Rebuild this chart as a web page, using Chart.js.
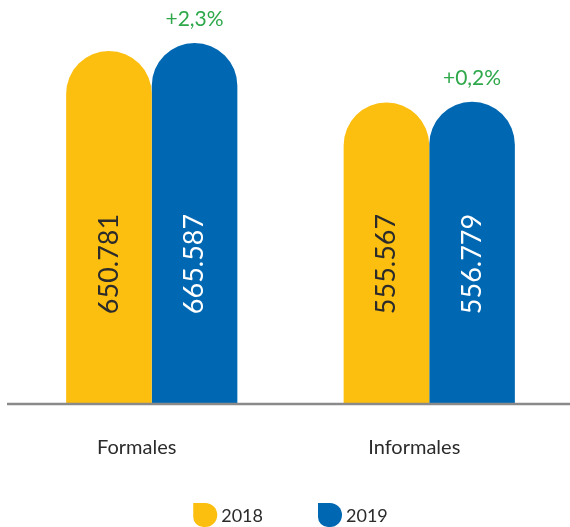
<!DOCTYPE html>
<html>
<head>
<meta charset="utf-8">
<script src="https://cdn.jsdelivr.net/npm/chart.js@4.4.1/dist/chart.umd.min.js"></script>
<style>
  html,body{margin:0;padding:0;background:#fff;}
  #wrap{width:570px;height:527px;position:relative;}
</style>
</head>
<body>
<div id="wrap"><canvas id="c"></canvas></div>
<script>
const categories = ['Formales', 'Informales'];
const seriesLabels = ['2018', '2019'];
const values2018 = [650781, 555567];
const values2019 = [665587, 556779];
const changeLabels = ['+2,3%', '+0,2%'];

const YELLOW = '#FCBE0F';
const BLUE = '#0068B2';
const GREEN = '#2EA84A';
const FONT = 'Lato, "Open Sans", sans-serif';

function fmt(v){ return String(v).replace(/\B(?=(\d{3})+(?!\d))/g, '.'); }

const overlay = {
  id: 'overlay',
  afterDatasetsDraw(chart){
    const ctx = chart.ctx;
    const yScale = chart.scales.y;
    const area = chart.chartArea;
    const base = yScale.getPixelForValue(0);
    ctx.save();
    // axis line
    ctx.strokeStyle = '#8a8a8a';
    ctx.lineWidth = 2.5;
    ctx.beginPath();
    ctx.moveTo(7, base + 1);
    ctx.lineTo(chart.width, base + 1);
    ctx.stroke();
    // values inside bars
    chart.data.datasets.forEach((ds, di) => {
      const meta = chart.getDatasetMeta(di);
      meta.data.forEach((bar, i) => {
        ctx.save();
        ctx.translate(bar.x, base - 139);
        ctx.rotate(-Math.PI / 2);
        ctx.fillStyle = di === 0 ? '#2b2b2b' : '#ffffff';
        ctx.font = '400 27px ' + FONT;
        ctx.textAlign = 'center';
        ctx.textBaseline = 'middle';
        ctx.fillText(fmt(ds.data[i]), 0, 0);
        ctx.restore();
      });
    });
    // change labels above 2019 bars
    const meta19 = chart.getDatasetMeta(1);
    meta19.data.forEach((bar, i) => {
      ctx.fillStyle = GREEN;
      ctx.font = '400 21px ' + FONT;
      ctx.textAlign = 'center';
      ctx.textBaseline = 'middle';
      ctx.fillText(changeLabels[i], bar.x, bar.y - 24);
    });
    // legend
    ctx.font = '400 18px ' + FONT;
    const box = 24, gapText = 4, gapItem = 55;
    const widths = chart.data.datasets.map(ds => box + gapText + ctx.measureText(ds.label).width);
    const total = widths.reduce((a, b) => a + b, 0) + gapItem * (widths.length - 1);
    let x = (area.left + area.right) / 2 - total / 2;
    const yc = chart.height - 12;
    chart.data.datasets.forEach((ds, i) => {
      ctx.fillStyle = ds.backgroundColor;
      ctx.beginPath();
      ctx.roundRect(x, yc - box / 2, box, box, [0, 12, 12, 10]);
      ctx.fill();
      ctx.fillStyle = '#2b2b2b';
      ctx.textAlign = 'left';
      ctx.textBaseline = 'middle';
      ctx.fillText(ds.label, x + box + gapText, yc + 1);
      x += widths[i] + gapItem;
    });
    ctx.restore();
  }
};

new Chart(document.getElementById('c'), {
  type: 'bar',
  data: {
    labels: categories,
    datasets: [
      { label: seriesLabels[0], data: values2018, backgroundColor: YELLOW,
        borderRadius: {topLeft: 200, topRight: 200, bottomLeft: 0, bottomRight: 0}, borderSkipped: 'start' },
      { label: seriesLabels[1], data: values2019, backgroundColor: BLUE,
        borderRadius: {topLeft: 200, topRight: 200, bottomLeft: 0, bottomRight: 0}, borderSkipped: 'start' }
    ]
  },
  options: {
    responsive: true,
    maintainAspectRatio: false,
    animation: false,
    devicePixelRatio: 1,
    layout: { padding: { left: 13, right: 2, top: 10, bottom: 34 } },
    datasets: { bar: { categoryPercentage: 0.617, barPercentage: 1.0 } },
    scales: {
      x: {
        grid: { display: false, drawTicks: false },
        border: { display: false },
        ticks: { color: '#2b2b2b', font: { family: FONT, size: 20 }, padding: 33, labelOffset: -15 }
      },
      y: { display: false, min: 0, max: 726500 }
    },
    plugins: {
      legend: { display: false },
      tooltip: { enabled: false }
    }
  },
  plugins: [overlay]
});
</script>
</body>
</html>
